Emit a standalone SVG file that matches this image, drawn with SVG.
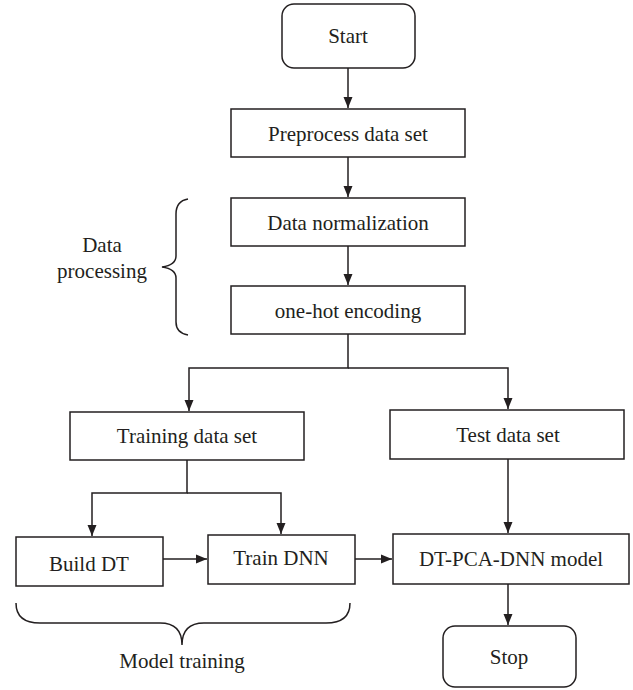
<svg xmlns="http://www.w3.org/2000/svg" width="633" height="690" viewBox="0 0 633 690">
<style>
.box{fill:#fff;stroke:#231f20;stroke-width:1.5}
.t{font-family:"Liberation Serif","Times New Roman",serif;font-size:21px;fill:#231f20;text-anchor:middle;dominant-baseline:central}
.c{fill:none;stroke:#231f20;stroke-width:1.5}
</style>
<defs>
<marker id="ah" markerWidth="12" markerHeight="10" refX="11" refY="5" orient="auto" markerUnits="userSpaceOnUse">
<path d="M0,0.5 L11,5 L0,9.5 Z" fill="#231f20"/>
</marker>
</defs>
<g id="connectors">
<path class="c" d="M348,68 V108" marker-end="url(#ah)"/>
<path class="c" d="M348,157 V197" marker-end="url(#ah)"/>
<path class="c" d="M348,246 V285" marker-end="url(#ah)"/>
<path class="c" d="M348,334 V368 H189 V411" marker-end="url(#ah)"/>
<path class="c" d="M348,368 H508 V409" marker-end="url(#ah)"/>
<path class="c" d="M187,460 V493 H92 V536" marker-end="url(#ah)"/>
<path class="c" d="M187,493 H281 V534" marker-end="url(#ah)"/>
<path class="c" d="M163,559 H207" marker-end="url(#ah)"/>
<path class="c" d="M355,559 H392" marker-end="url(#ah)"/>
<path class="c" d="M508,459 V533" marker-end="url(#ah)"/>
<path class="c" d="M508,584 V625" marker-end="url(#ah)"/>
</g>
<g id="start"><rect class="box" x="282" y="4" width="133" height="64" rx="12"/><text class="t" x="348" y="36">Start</text></g>
<g id="preprocess"><rect class="box" x="231" y="109" width="234" height="48"/><text class="t" x="348" y="134">Preprocess data set</text></g>
<g id="normalization"><rect class="box" x="231" y="198" width="234" height="48"/><text class="t" x="348" y="223">Data normalization</text></g>
<g id="onehot"><rect class="box" x="231" y="286" width="234" height="48"/><text class="t" x="348" y="311">one-hot encoding</text></g>
<g id="training"><rect class="box" x="70" y="412" width="234" height="48"/><text class="t" x="187" y="436">Training data set</text></g>
<g id="test"><rect class="box" x="390" y="410" width="234" height="49"/><text class="t" x="508" y="435">Test data set</text></g>
<g id="builddt"><rect class="box" x="16" y="537" width="147" height="49"/><text class="t" x="89" y="564">Build DT</text></g>
<g id="traindnn"><rect class="box" x="208" y="535" width="147" height="49"/><text class="t" x="281" y="558">Train DNN</text></g>
<g id="model"><rect class="box" x="393" y="534" width="236" height="50"/><text class="t" x="511" y="559">DT-PCA-DNN model</text></g>
<g id="stop"><rect class="box" x="443" y="626" width="133" height="61" rx="12"/><text class="t" x="509" y="657">Stop</text></g>
<g id="data-processing">
<path class="c" d="M188,199 Q176,201 176,214 V256 Q176,265 162,267 Q176,269 176,278 V322 Q176,333 188,335"/>
<text class="t" x="102" y="245">Data</text>
<text class="t" x="102" y="271">processing</text>
</g>
<g id="model-training">
<path class="c" d="M16,603 Q16,623 40,623 H160 Q182,623 182,645 Q182,623 204,623 H326 Q350,623 350,603"/>
<text class="t" x="182" y="661">Model training</text>
</g>
</svg>
